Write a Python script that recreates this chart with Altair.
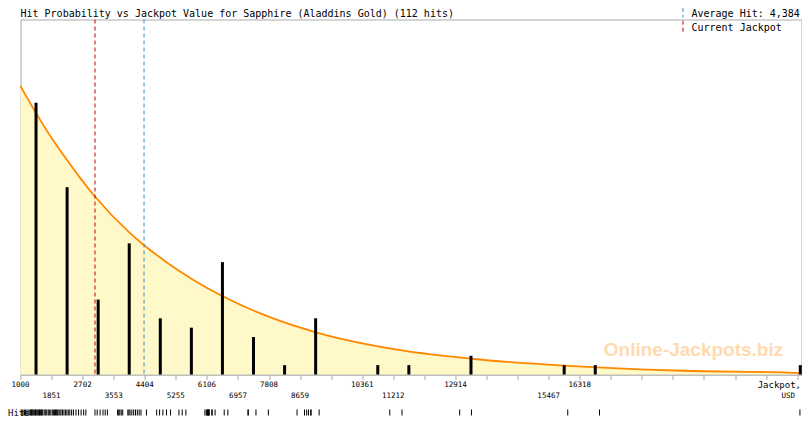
import altair as alt
import pandas as pd

# ---------------- data ----------------
TITLE = "Hit Probability vs Jackpot Value for Sapphire (Aladdins Gold) (112 hits)"
AVG_LABEL = "Average Hit: 4,384"
CUR_LABEL = "Current Jackpot"
AVG_HIT = 4384
CURRENT_JACKPOT = 3040
X_MIN = 1000
X_MAX = 22393
Y_MAX = 37.9

tick_values = [1000, 1851, 2702, 3553, 4404, 5255, 6106, 6957, 7808, 8659, 9510,
               10361, 11212, 12063, 12914, 13765, 14616, 15467, 16318, 17169,
               18020, 18871, 19722, 20573, 21424, 22275]
top_labels = ["1000", "2702", "4404", "6106", "7808", "10361", "12914", "16318"]
bottom_labels = ["1851", "3553", "5255", "6957", "8659", "11212", "15467"]

bar_values = [1425.5, 2276.5, 3127.5, 3978.5, 4829.5, 5680.5, 6531.5, 7382.5,
              8233.5, 9084.5, 10786.5, 11637.5, 13339.5, 15892.5, 16743.5, 22360]
bar_counts = [29, 20, 8, 14, 6, 5, 12, 4, 1, 6, 1, 1, 2, 1, 1, 1]

hits = [1040, 1070, 1110, 1140, 1180, 1230, 1260, 1280, 1300, 1320, 1340, 1365,
        1390, 1410, 1430, 1455, 1480, 1500, 1520, 1545, 1570, 1590, 1610, 1650,
        1690, 1720, 1760, 1790, 1830,
        1870, 1900, 1930, 1960, 1990, 2010, 2050, 2080, 2110, 2150, 2190, 2230,
        2270, 2310, 2350, 2400, 2450, 2520, 2590, 2660,
        2730, 2790, 3040, 3100, 3180, 3260, 3320, 3380,
        3660, 3690, 3720, 3760, 3800, 3940, 3970, 4000, 4050, 4100, 4150, 4200,
        4250, 4300,
        4450, 4730, 4810, 4900, 5000, 5110,
        5340, 5430, 5530, 6050, 6090,
        6110, 6120, 6130, 6140, 6150, 6160, 6170, 6240, 6250, 6330, 6580, 6680,
        7230, 7240, 7450, 7790,
        8575,
        8780, 8840, 8890, 8950, 8960, 9180,
        11115, 11450, 13030, 13352, 15990, 16860, 22350]

curve_x = [1000, 1435, 1843, 2294, 2612, 3039, 3972, 4388, 5331, 5693, 6536,
           7779, 9092, 11449, 13352, 15881, 16797, 19144, 22053, 22393]
curve_y = [30.8, 27.85, 25.3, 22.8, 21.1, 19.0, 15.2, 13.8, 11.1, 10.2, 8.35,
           6.2, 4.5, 2.57, 1.68, 0.95, 0.76, 0.4, 0.2, 0.15]

# ---------------- styling ----------------
FONT = "DejaVu Sans Mono"
GRAY = "#aaaaaa"
RED = "#bb0000"
BLUE = "#3a8fc0"
W, H = 781, 355

xscale = alt.Scale(domain=[X_MIN, X_MAX], nice=False, zero=False)
yscale = alt.Scale(domain=[0, Y_MAX], nice=False, zero=True)
xaxis = alt.Axis(values=tick_values, labels=False, title=None, grid=False,
                 domainColor=GRAY, tickColor=GRAY, tickSize=5, domainWidth=1)


def X(field):
    return alt.X(field, type="quantitative", scale=xscale, axis=xaxis)


def Y(field):
    return alt.Y(field, type="quantitative", scale=yscale, axis=None)


curve_df = pd.DataFrame({"x": curve_x, "y": curve_y})
bars_df = pd.DataFrame({"x": bar_values, "n": bar_counts})
hits_df = pd.DataFrame({"x": hits})
marks_df = pd.DataFrame({"x": [CURRENT_JACKPOT, AVG_HIT], "c": ["cur", "avg"]})
top_df = pd.DataFrame({"label": top_labels, "x": [int(v) for v in top_labels]})
bot_df = pd.DataFrame({"label": bottom_labels, "x": [int(v) for v in bottom_labels]})
one = pd.DataFrame({"k": [0]})

area = alt.Chart(curve_df).mark_area(color="#fff8c8", interpolate="monotone").encode(
    x=X("x"), y=Y("y"))
line = alt.Chart(curve_df).mark_line(color="#ff8800", strokeWidth=1.8,
                                     interpolate="monotone").encode(x=X("x"), y=Y("y"))
vlines = alt.Chart(marks_df).mark_rule(strokeDash=[4, 3], strokeWidth=1).encode(
    x=X("x"),
    color=alt.Color("c:N", scale=alt.Scale(domain=["cur", "avg"], range=[RED, BLUE]),
                    legend=None))
bars = alt.Chart(bars_df).mark_rule(strokeWidth=3, color="black", strokeCap="butt").encode(
    x=X("x"), y=Y("n"), y2=alt.datum(0))
rug = alt.Chart(hits_df).mark_rule(strokeWidth=1, color="black").encode(
    x=X("x"), y=alt.value(390), y2=alt.value(396))

top_text = alt.Chart(top_df).mark_text(font=FONT, fontSize=7.5, baseline="middle",
                                       align="center", color="black").encode(
    x=X("x"), y=alt.value(365), text="label:N")
bot_text = alt.Chart(bot_df).mark_text(font=FONT, fontSize=7.5, baseline="middle",
                                       align="center", color="black").encode(
    x=X("x"), y=alt.value(376), text="label:N")

watermark = alt.Chart(one).mark_text(text="Online-Jackpots.biz", font="Liberation Sans",
                                     fontWeight="bold", fontSize=19, color="#ffdab0",
                                     align="center", baseline="alphabetic").encode(
    x=alt.value(673), y=alt.value(336.5))

title = alt.Chart(one).mark_text(text=TITLE, font=FONT, fontSize=10, align="left",
                                 baseline="alphabetic", color="black").encode(
    x=alt.value(0), y=alt.value(-2.7))
avg_text = alt.Chart(one).mark_text(text=AVG_LABEL, font=FONT, fontSize=10, align="left",
                                    baseline="alphabetic", color="black").encode(
    x=alt.value(671), y=alt.value(-2.7))
cur_text = alt.Chart(one).mark_text(text=CUR_LABEL, font=FONT, fontSize=10, align="left",
                                    baseline="alphabetic", color="black").encode(
    x=alt.value(671), y=alt.value(11.2))
avg_dash = alt.Chart(one).mark_rule(color=BLUE, strokeDash=[4, 3], strokeWidth=1).encode(
    x=alt.value(662.5), y=alt.value(-11.5), y2=alt.value(-2))
cur_dash = alt.Chart(one).mark_rule(color=RED, strokeDash=[4, 3], strokeWidth=1).encode(
    x=alt.value(662.5), y=alt.value(1.2), y2=alt.value(13.8))

jack_text = alt.Chart(one).mark_text(text="Jackpot,", font=FONT, fontSize=9, align="right",
                                     baseline="middle", color="black").encode(
    x=alt.value(780.5), y=alt.value(365))
usd_text = alt.Chart(one).mark_text(text="USD", font=FONT, fontSize=7.5, align="right",
                                    baseline="middle", color="black").encode(
    x=alt.value(774.5), y=alt.value(376.5))
hits_text = alt.Chart(one).mark_text(text="Hits", font=FONT, fontSize=9, align="left",
                                     baseline="alphabetic", color="black").encode(
    x=alt.value(-12.5), y=alt.value(396))

chart = alt.layer(
    area, line, watermark, vlines, bars, rug, top_text, bot_text,
    title, avg_text, cur_text, avg_dash, cur_dash, jack_text, usd_text, hits_text
).properties(
    width=W, height=H,
    autosize=alt.AutoSizeParams(type="none"),
    padding={"left": 12.5, "top": 11.5, "right": 0.5, "bottom": 41.5},
    background="white",
).configure_view(stroke=GRAY, strokeWidth=1)

chart.save("out.html", embed_options={"renderer": "svg", "actions": False})
